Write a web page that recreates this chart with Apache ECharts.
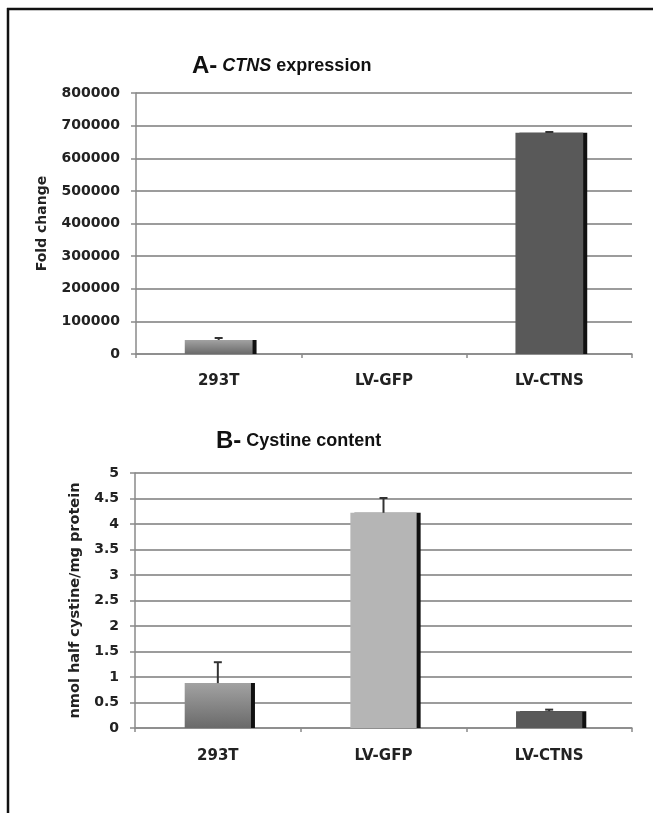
<!DOCTYPE html>
<html>
<head>
<meta charset="utf-8">
<script src="https://cdn.jsdelivr.net/npm/echarts@6/dist/echarts.min.js"></script>
<style>
html,body{margin:0;padding:0;background:#fff;}
#chart{width:653px;height:813px;}
</style>
</head>
<body>
<div id="chart"></div>
<script>
// ---- data ----
var categories = ['293T', 'LV-GFP', 'LV-CTNS'];
var foldChange = [43000, 0, 678000];
var foldChangeErr = [6000, 0, 2500];
var cystine = [0.88, 4.22, 0.33];
var cystineErr = [0.41, 0.29, 0.03];
var foldTicks = { min: 0, max: 800000, interval: 100000 };
var cystTicks = { min: 0, max: 5, interval: 0.5 };

var barColors = [
  { type: 'linear', x: 0, y: 0, x2: 0, y2: 1, colorStops: [{ offset: 0, color: '#a2a2a2' }, { offset: 1, color: '#6a6a6a' }] },
  '#b5b5b5',
  '#595959'
];

var chart = echarts.init(document.getElementById('chart'), null, { renderer: 'canvas' });

var txt = '#222';
var tickFont = { fontFamily: 'DejaVu Sans', fontWeight: 'bold', fontSize: 14, color: txt };

function barData(vals) {
  return vals.map(function (v, i) {
    return {
      value: v,
      itemStyle: {
        color: barColors[i],
        shadowColor: '#111',
        shadowOffsetX: 4,
        shadowOffsetY: 0,
        shadowBlur: 0
      }
    };
  });
}

function errData(vals, errs) {
  return vals.map(function (v, i) { return [i, v, v + errs[i]]; });
}

function errRender(params, api) {
  var i = api.value(0);
  var lo = api.coord([i, api.value(1)]);
  var hi = api.coord([i, api.value(2)]);
  if (Math.abs(lo[1] - hi[1]) < 0.5) return null;
  return {
    type: 'group',
    children: [
      { type: 'line', shape: { x1: lo[0], y1: lo[1], x2: hi[0], y2: hi[1] }, style: { stroke: '#333', lineWidth: 2 } },
      { type: 'line', shape: { x1: hi[0] - 4, y1: hi[1], x2: hi[0] + 4, y2: hi[1] }, style: { stroke: '#333', lineWidth: 2 } }
    ]
  };
}

function xAxisCfg(gi, margin) {
  return {
    type: 'category', gridIndex: gi, data: categories,
    axisLine: { lineStyle: { color: '#8a8a8a', width: 1.5 } },
    axisTick: { show: true, length: 4, lineStyle: { color: '#8a8a8a', width: 1.5 } },
    axisLabel: { margin: margin, fontFamily: 'DejaVu Sans', fontWeight: 'bold', fontSize: 15, color: txt }
  };
}

function yAxisCfg(gi, ticks, name, nameGap, nameSize) {
  return {
    type: 'value', gridIndex: gi, min: ticks.min, max: ticks.max, interval: ticks.interval,
    name: name, nameLocation: 'middle', nameGap: nameGap,
    nameTextStyle: { fontFamily: 'DejaVu Sans', fontWeight: 'bold', fontSize: nameSize, color: txt },
    axisLine: { show: true, lineStyle: { color: '#8a8a8a', width: 1.5 } },
    axisTick: { show: true, length: 5, lineStyle: { color: '#8a8a8a', width: 1.5 } },
    splitLine: { show: true, lineStyle: { color: '#9c9c9c', width: 2 } },
    axisLabel: Object.assign({ margin: 16, formatter: function (v) { return String(v); } }, tickFont)
  };
}

chart.setOption({
  animation: false,
  backgroundColor: '#fff',
  title: [
    {
      text: '{a|A-} {i|CTNS} {n|expression}',
      left: 187, top: 49,
      textStyle: {
        rich: {
          a: { fontFamily: 'Liberation Sans', fontWeight: 'bold', fontSize: 24, color: '#111' },
          i: { fontFamily: 'Liberation Sans', fontWeight: 'bold', fontStyle: 'italic', fontSize: 18, color: '#111' },
          n: { fontFamily: 'Liberation Sans', fontWeight: 'bold', fontSize: 18, color: '#111' }
        }
      }
    },
    {
      text: '{a|B-} {n|Cystine content}',
      left: 211, top: 424,
      textStyle: {
        rich: {
          a: { fontFamily: 'Liberation Sans', fontWeight: 'bold', fontSize: 24, color: '#111' },
          n: { fontFamily: 'Liberation Sans', fontWeight: 'bold', fontSize: 18, color: '#111' }
        }
      }
    }
  ],
  grid: [
    { left: 136, right: 21, top: 93, bottom: 459 },
    { left: 135, right: 21, top: 473, bottom: 85 }
  ],
  xAxis: [xAxisCfg(0, 20), xAxisCfg(1, 21)],
  yAxis: [
    yAxisCfg(0, foldTicks, 'Fold change', 87, 14),
    yAxisCfg(1, cystTicks, 'nmol half cystine/mg protein', 52, 14.5)
  ],
  series: [
    { type: 'bar', xAxisIndex: 0, yAxisIndex: 0, barWidth: '41%', data: barData(foldChange), z: 3 },
    { type: 'custom', xAxisIndex: 0, yAxisIndex: 0, renderItem: errRender, data: errData(foldChange, foldChangeErr), z: 4 },
    { type: 'bar', xAxisIndex: 1, yAxisIndex: 1, barWidth: '40%', data: barData(cystine), z: 3 },
    { type: 'custom', xAxisIndex: 1, yAxisIndex: 1, renderItem: errRender, data: errData(cystine, cystineErr), z: 4 }
  ],
  graphic: [
    { type: 'line', shape: { x1: 7, y1: 9, x2: 653, y2: 9 }, style: { stroke: '#111', lineWidth: 2.5 } },
    { type: 'line', shape: { x1: 8, y1: 8, x2: 8, y2: 813 }, style: { stroke: '#111', lineWidth: 2.5 } }
  ]
});
</script>
</body>
</html>
